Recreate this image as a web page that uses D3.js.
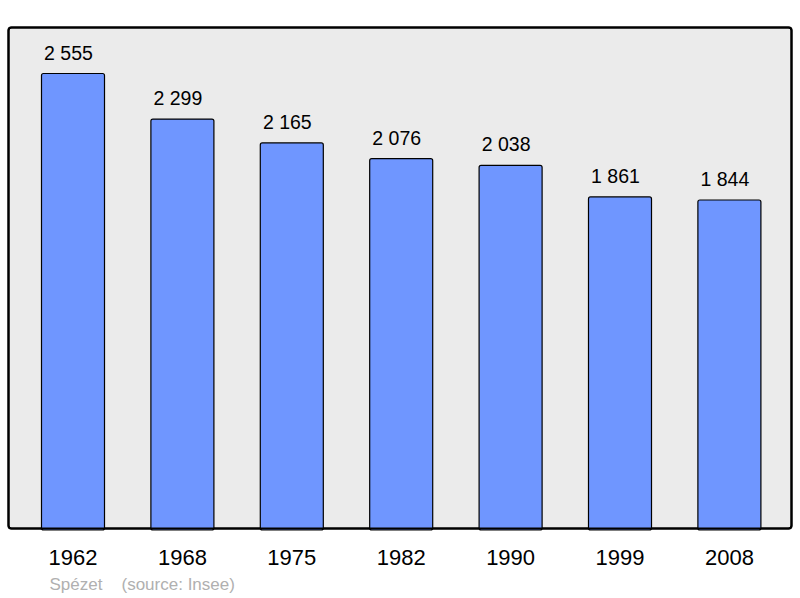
<!DOCTYPE html>
<html><head><meta charset="utf-8">
<script src="https://cdn.jsdelivr.net/npm/d3@7"></script>
<style>body{margin:0;background:#fff}svg{display:block}</style>
</head><body>
<script>
const years = ["1962","1968","1975","1982","1990","1999","2008"];
const population = [2555, 2299, 2165, 2076, 2038, 1861, 1844];
const valueLabels = ["2 555","2 299","2 165","2 076","2 038","1 861","1 844"];
const footerLeft = "Spézet";
const footerRight = "(source: Insee)";

const W = 800, H = 598;
const svg = d3.select("body").append("svg").attr("width", W).attr("height", H);
const FONT = "Liberation Sans, Arial, sans-serif";

const panel = {x: 8.5, y: 27.5, w: 783, h: 501};
svg.append("rect").attr("x", panel.x).attr("y", panel.y).attr("width", panel.w).attr("height", panel.h)
  .attr("rx", 3).attr("fill", "#ebebeb").attr("stroke", "#000").attr("stroke-width", 2);

const x = d3.scaleBand().domain(years).range([8.5, 793.9]).paddingInner(0.424).paddingOuter(0.3016);
const y = d3.scaleLinear().domain([0, 2555]).range([528, 73.5]);

const data = years.map((yr, i) => ({yr, v: population[i], lab: valueLabels[i]}));

svg.selectAll("rect.bar").data(data).join("rect").attr("class", "bar")
  .attr("x", d => x(d.yr)).attr("y", d => y(d.v))
  .attr("width", x.bandwidth()).attr("height", d => y(0) - y(d.v) + 2)
  .attr("rx", 2).attr("fill", "#6f96ff").attr("stroke", "#000").attr("stroke-width", 1.2);

svg.append("rect").attr("x", panel.x).attr("y", panel.y).attr("width", panel.w).attr("height", panel.h)
  .attr("rx", 3).attr("fill", "none").attr("stroke", "#000").attr("stroke-width", 2);

svg.selectAll("text.val").data(data).join("text").attr("class", "val")
  .attr("x", d => x(d.yr) + x.bandwidth()/2 - 4.5).attr("y", d => y(d.v) - 14)
  .attr("text-anchor", "middle").attr("font-family", FONT)
  .attr("font-size", 19.5).attr("fill", "#000").text(d => d.lab);

const axis = d3.axisBottom(x).tickSize(0).tickPadding(0);
const gx = svg.append("g").attr("transform", "translate(0,565)").call(axis);
gx.select(".domain").remove();
gx.selectAll("text").attr("font-family", FONT).attr("font-size", 22).attr("fill", "#000").attr("dy", 0);

svg.append("text").attr("x", 49.5).attr("y", 590).attr("font-family", FONT)
  .attr("font-size", 17).attr("fill", "#b0b0b0").text(footerLeft);
svg.append("text").attr("x", 121.5).attr("y", 590).attr("font-family", FONT)
  .attr("font-size", 17).attr("fill", "#b0b0b0").text(footerRight);
</script>
</body></html>
